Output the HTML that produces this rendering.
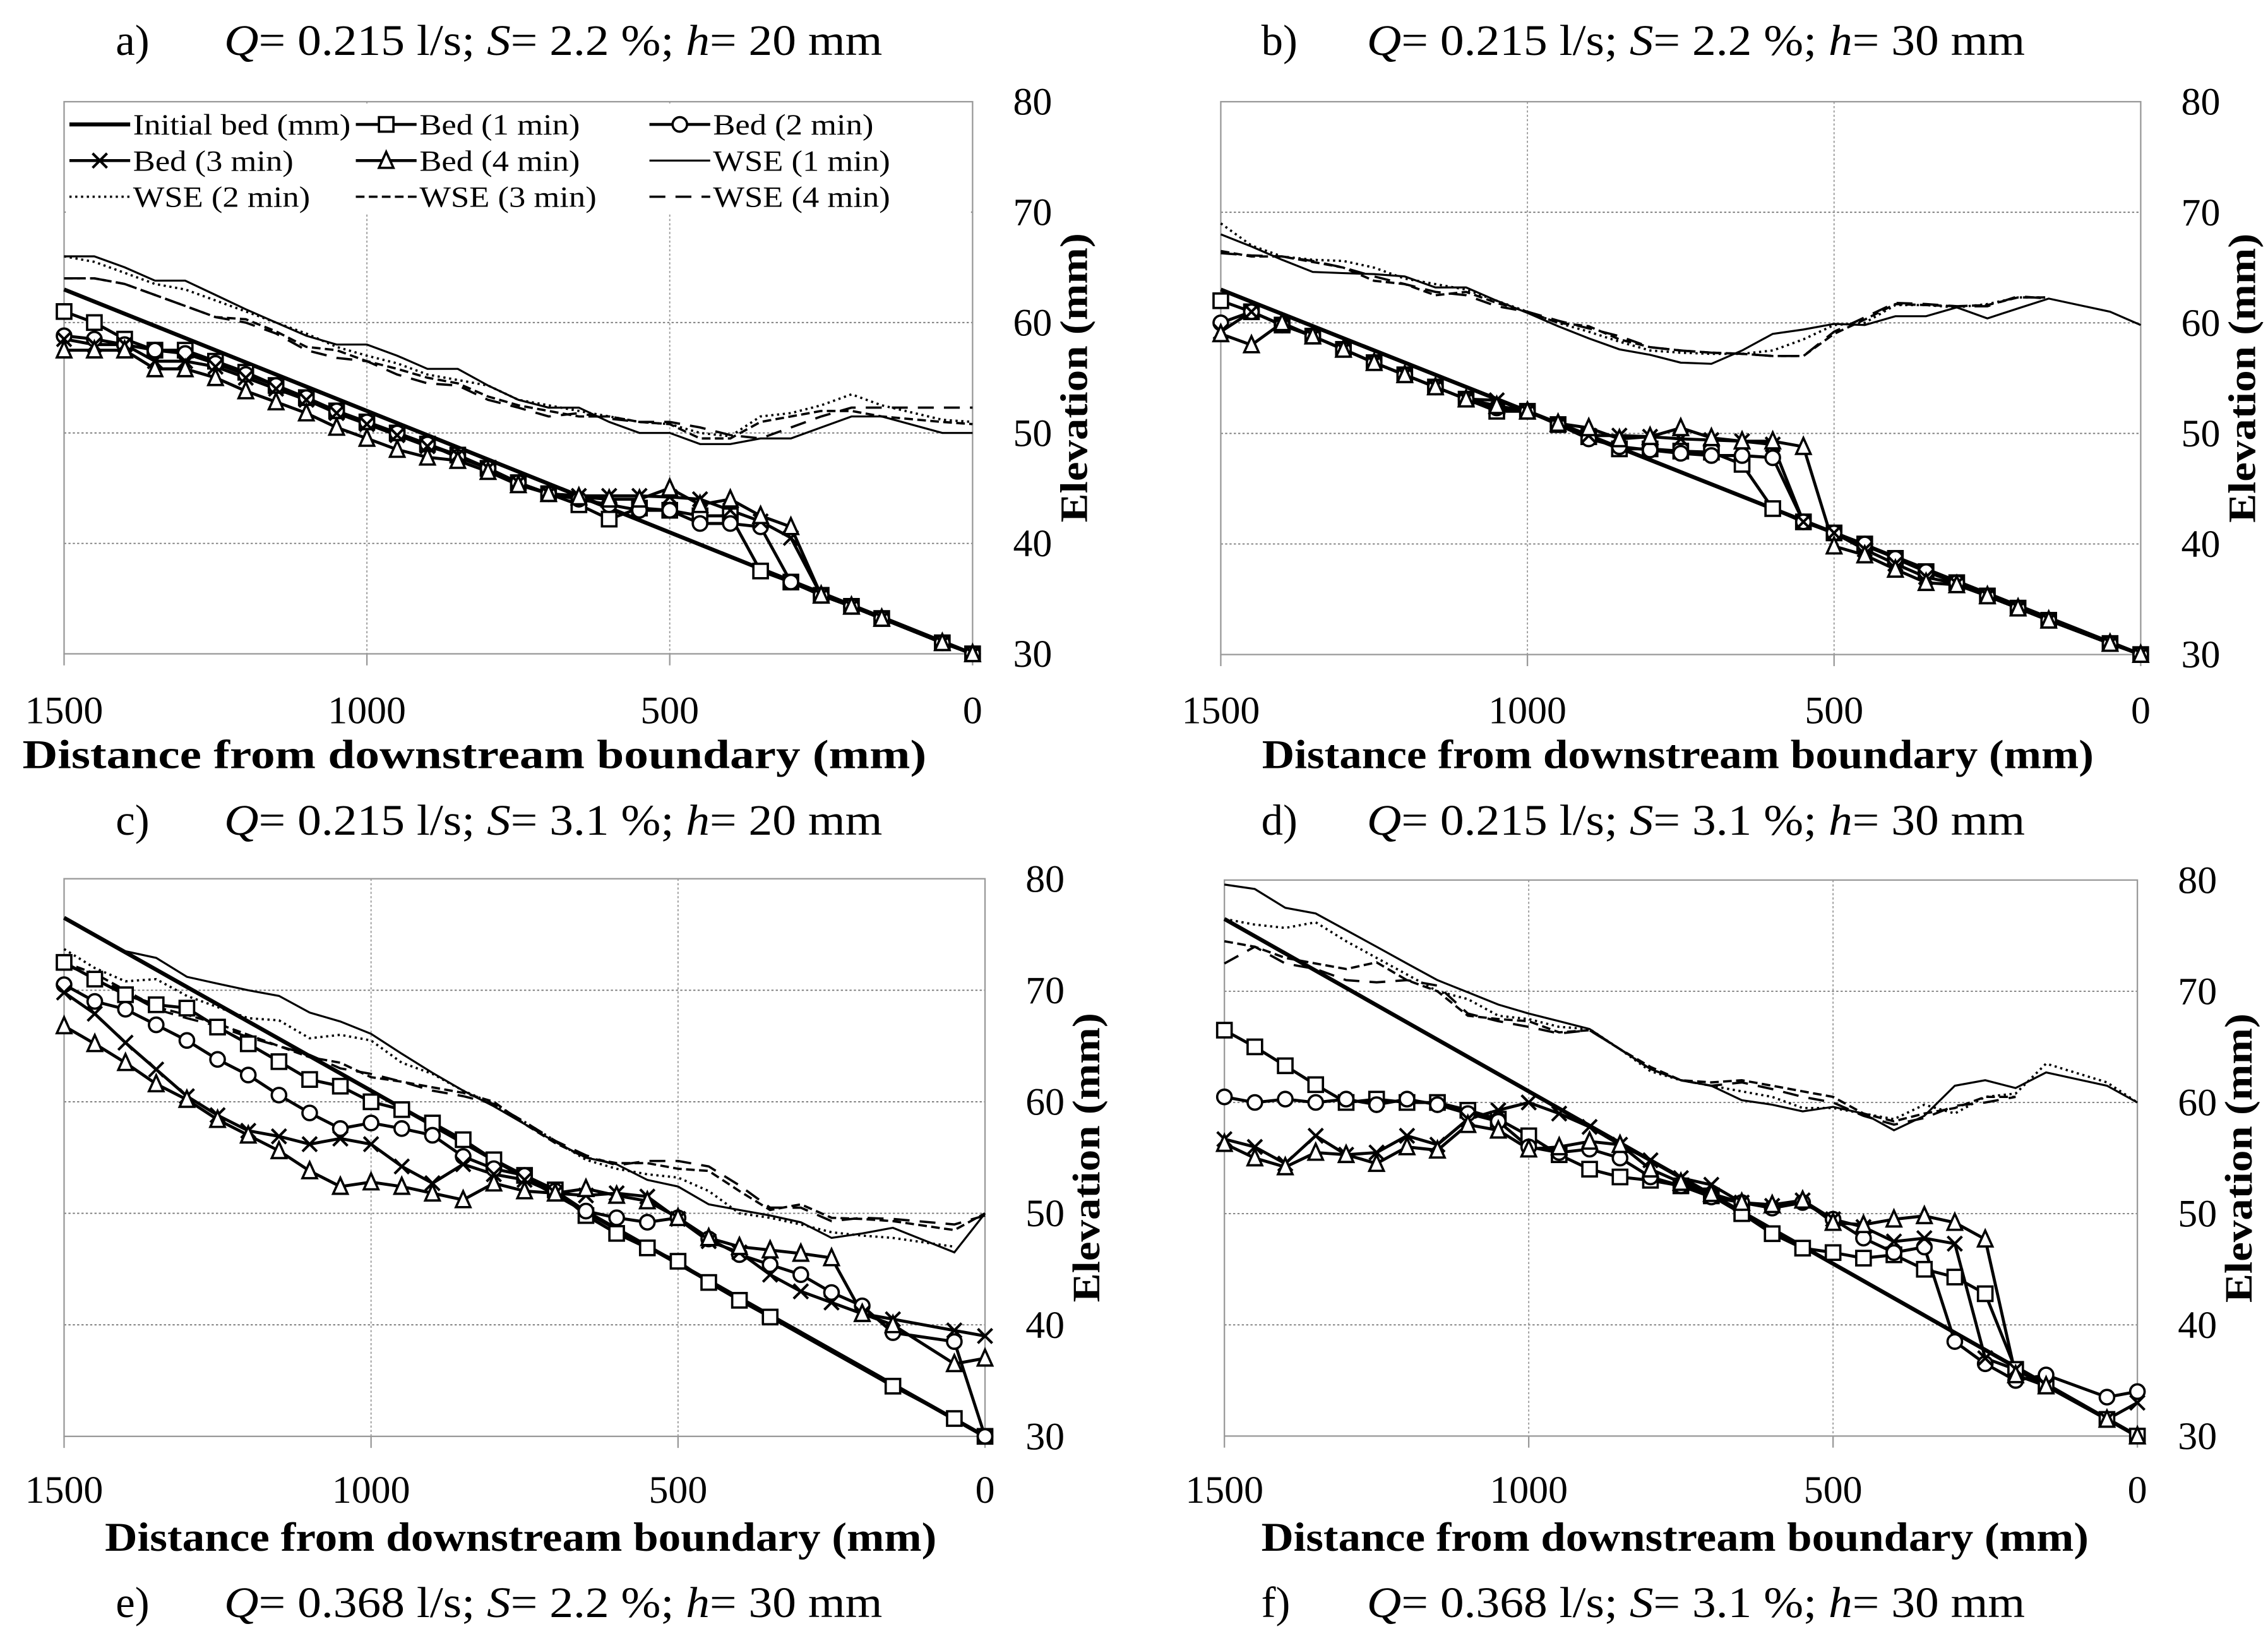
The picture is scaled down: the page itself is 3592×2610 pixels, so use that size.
<!DOCTYPE html>
<html><head><meta charset="utf-8">
<style>
html,body{margin:0;padding:0;background:#fff;}
svg{display:block;}
text{font-family:"Liberation Serif",serif;fill:#000;}
</style></head>
<body>
<svg id="chart" width="3592" height="2610" viewBox="0 0 1568 1139.3" xmlns="http://www.w3.org/2000/svg">
<rect x="0" y="0" width="1568" height="1139.3" fill="#fff"/>
<g id="layer"></g>
<g font-family="Liberation Serif, serif" font-size="30" fill="#000">
<text x="80" y="38">a)</text>
<text x="155" y="38" textLength="455" lengthAdjust="spacingAndGlyphs"><tspan font-style="italic">Q</tspan>= 0.215 l/s; <tspan font-style="italic">S</tspan>= 2.2 %; <tspan font-style="italic">h</tspan>= 20 mm</text>
<text x="872" y="38">b)</text>
<text x="945" y="38" textLength="455" lengthAdjust="spacingAndGlyphs"><tspan font-style="italic">Q</tspan>= 0.215 l/s; <tspan font-style="italic">S</tspan>= 2.2 %; <tspan font-style="italic">h</tspan>= 30 mm</text>
<text x="80" y="577">c)</text>
<text x="155" y="577" textLength="455" lengthAdjust="spacingAndGlyphs"><tspan font-style="italic">Q</tspan>= 0.215 l/s; <tspan font-style="italic">S</tspan>= 3.1 %; <tspan font-style="italic">h</tspan>= 20 mm</text>
<text x="872" y="577">d)</text>
<text x="945" y="577" textLength="455" lengthAdjust="spacingAndGlyphs"><tspan font-style="italic">Q</tspan>= 0.215 l/s; <tspan font-style="italic">S</tspan>= 3.1 %; <tspan font-style="italic">h</tspan>= 30 mm</text>
<text x="80" y="1118">e)</text>
<text x="155" y="1118" textLength="455" lengthAdjust="spacingAndGlyphs"><tspan font-style="italic">Q</tspan>= 0.368 l/s; <tspan font-style="italic">S</tspan>= 2.2 %; <tspan font-style="italic">h</tspan>= 30 mm</text>
<text x="872" y="1118">f)</text>
<text x="945" y="1118" textLength="455" lengthAdjust="spacingAndGlyphs"><tspan font-style="italic">Q</tspan>= 0.368 l/s; <tspan font-style="italic">S</tspan>= 3.1 %; <tspan font-style="italic">h</tspan>= 30 mm</text>
</g>
</svg>
<script>
const dist = [1500,1450,1400,1350,1300,1250,1200,1150,1100,1050,1000,950,900,850,800,750,700,650,600,550,500,450,400,350,300,250,200,150,50,0];
const xTicks = [1500,1000,500,0];
const yTicks = [30,40,50,60,70,80];

const aInitX = [1500,0];
const aInitY = [63,30];
const aBed1 = [61,60,58.5,57.5,57.5,56.5,55.5,54.3,53.2,52,51,50,49,48,46.8,45.5,44.5,43.5,42.2,43.2,43,42.5,42.5,37.5,36.5,35.3,34.3,33.2,31,30];
const aBed2 = [58.8,58.5,58,57.5,57.2,56.3,55.3,54.3,53.2,52,51,50,49,47.8,46.8,45.5,44.5,44,43.5,43,43,41.8,41.8,41.5,36.5,35.3,34.3,33.2,31,30];
const aBed3 = [58.5,58,58,56.5,56.5,56,55,54,53,51.8,50.8,49.8,48.8,48,46.8,45.5,44.5,44.3,44.3,44.3,44.2,44,43,42,40.5,35.3,34.3,33.2,31,30];
const aBed4 = [57.5,57.5,57.5,55.8,55.8,55,53.8,52.8,51.8,50.5,49.5,48.5,47.8,47.5,46.5,45.3,44.5,44.2,44,44,45,43.5,44,42.5,41.5,35.3,34.3,33.2,31,30];
const aWse1 = [66,66,65,63.8,63.8,62.5,61.2,60,58.8,58,58,57,55.8,55.8,54.3,53,52.3,52.3,51,50,50,49,49,49.5,49.5,50.5,51.5,51.5,50,50];
const aWse2 = [66,65.5,64.5,63.5,63,62,61,60,59,57.8,57,56.3,55.3,54.8,54.3,53,52.5,52,51.5,51,50.8,50,49.7,51.5,51.8,52.5,53.5,52.5,51.2,51];
const aWse3 = [64,64,63.5,62.5,61.5,60.5,60.3,59.2,57.8,57.5,56.5,55.8,55,54.5,53.3,52.5,52,51.5,51.5,51,50.8,49.5,49.5,51,51.5,52,52,51.5,51,50.8];
const aWse4 = [64,64,63.5,62.5,61.5,60.5,60,59,57.5,56.8,56.5,55.3,54.5,54.3,53,52.3,51.5,51.8,51.3,51,51,50.5,49.8,49.5,50.5,51.5,52.3,52.3,52.3,52.3];

const bInitX = [1500,0];
const bInitY = [63,30];
const bBed1 = [62,61,59.8,58.8,57.6,56.4,55.3,54.2,53.1,52,52,50.8,49.7,48.6,48.6,48.4,48.3,47.2,43.2,42,41,40,38.7,37.5,36.5,35.3,34.2,33.1,31,30];
const bBed2 = [60,61,59.8,58.8,57.6,56.4,55.3,54.2,53.1,52.3,52,50.8,49.5,48.8,48.5,48.2,48,48,47.8,42,41,40,38.7,37.5,36.5,35.3,34.2,33.1,31,30];
const bBed3 = [59.2,61,59.8,58.8,57.6,56.4,55.3,54.2,53.1,53,52,50.8,49.8,49.8,49.7,49.5,49.4,49.3,49,42,41,39.5,38.2,37,36.4,35.3,34.2,33.1,31,30];
const bBed4 = [59,58,60,58.8,57.6,56.4,55.3,54.2,53.1,52.5,52,50.9,50.5,49.5,49.7,50.5,49.6,49.3,49.3,48.8,39.8,39,37.7,36.5,36.3,35.3,34.2,33.1,31,30];
const bWse1 = [68,66.9,65.7,64.6,64.5,64.4,64.2,63.2,63.2,62,60.9,59.7,58.6,57.6,57.1,56.4,56.3,57.5,59,59.4,59.9,59.8,60.6,60.6,61.4,60.4,61.3,62.2,61,59.8];
const bWse2 = [69,67,66,65.7,65.6,65,64,63.5,63,62,61,60,59.2,58.3,57.5,57.3,57.2,57.2,57.5,58.5,59.8,60,61.6,61.6,61.4,61.7,62.3,62.3,null,null];
const bWse3 = [66.5,66,66,65.5,65,63.8,63.5,62.5,62.8,61.8,61,60,59.7,58.5,57.8,57.5,57.3,57.2,57,57,59,60.3,61.7,61.6,61.5,61.6,62.3,62.3,null,null];
const bWse4 = [66.3,66.1,66,65.6,65,64.2,63.5,62.8,62.5,61.5,61,60.2,59.5,58.8,57.8,57.5,57.3,57.2,57,57,59.2,60.5,61.8,61.7,61.5,61.5,62.4,62.2,null,null];

const cInitX = [1500,0];
const cInitY = [76.5,30];
const cBed1 = [72.5,71,69.6,68.7,68.4,66.7,65.2,63.6,62,61.4,60,59.3,58.1,56.6,54.8,53.4,52.1,49.8,48.2,46.9,45.7,43.8,42.2,40.7,null,null,null,34.5,31.6,30];
const cBed2 = [70.5,69,68.3,66.9,65.5,63.8,62.4,60.6,59,57.6,58.1,57.6,57,55.1,54,53.4,52,50.2,49.6,49.2,49.6,47.7,46.3,45.4,44.5,42.9,41.7,39.3,38.5,30];
const cBed3 = [69.8,67.9,65.3,62.9,60.5,58.8,57.4,56.9,56.2,56.7,56.2,54.2,52.7,54.4,53.5,53,51.8,51.6,51.8,51.5,49.5,47.5,46.5,44.5,43,42,41,40.5,39.5,39];
const cBed4 = [66.8,65.2,63.5,61.6,60.2,58.4,57,55.6,53.8,52.4,52.8,52.4,51.8,51.2,52.7,52,51.8,52.2,51.6,51.1,49.6,47.8,47,46.7,46.4,46,41,40,36.5,37];
const cWse1 = [76.5,75,73.5,72.9,71.2,70.6,70,69.5,68,67.2,66.1,64.3,62.6,61,59.6,58,56.4,55,54.4,53,52.4,50.8,50.3,49.8,49.2,47.8,48.2,48.7,46.5,50];
const cWse2 = [73.7,72,70.8,71,69.5,68.5,67.5,67.3,65.7,66,65.5,63.5,62.5,61,59.8,58.2,56.5,54.8,54,53.5,53.2,52,50,49.6,49,48.3,48,47.8,47,null];
const cWse3 = [72.5,71.5,70,68.5,67.8,67,66,65,64,63.5,62.2,61.8,61.3,60.8,60,58,56.3,55,54.5,54.5,54,53.8,52,50.3,50.8,49.6,49.5,49.3,48.5,50];
const cWse4 = [72.3,71.2,69.8,68.3,67.5,66.8,65.8,65,64.2,63,62.5,61.8,61,60.5,59.8,58.2,56.5,55.2,54.3,54.7,54.7,54.2,52.5,50.5,50.5,49.3,49.6,49.5,49,49.8];

const dInitX = [1500,0];
const dInitY = [76.5,30];
const dBed1 = [66.5,65,63.3,61.6,60,60.3,60,60,59.3,58.5,57,55.3,54,53.3,53,52.5,51.6,50,48.2,46.9,46.5,46,46.3,45,44.3,42.8,36,34.5,31.5,30];
const dBed2 = [60.5,60,60.3,60,60.3,59.8,60.3,59.8,59,58.3,56,55.5,55.8,55,53.3,52.5,51.5,51,50.5,51,49.5,47.8,46.5,47,38.5,36.5,35,35.5,33.5,34];
const dBed3 = [56.7,56,54.5,57,55.3,55.5,57,56.2,58.5,59.3,60,59,57.8,56.2,54.8,53.2,52.6,51,50.7,51.2,49.5,48.8,47.5,47.8,47.3,37,36,34.5,31.5,33];
const dBed4 = [56.3,55,54.2,55.5,55.3,54.5,56,55.7,58,57.5,55.8,56,56.5,56.2,54,52.8,51.8,51,50.8,51.2,49.2,49,49.5,49.8,49.2,47.7,35.5,34.5,31.5,30];
const dWse1 = [79.6,79.2,77.5,77,75.5,74,72.5,71,69.9,68.8,68,67.3,66.6,64.8,63,62,61.5,60.2,59.8,59.2,59.6,59,57.5,58.8,61.5,62,61.3,62.7,61.5,60];
const dWse2 = [76.5,76,75.7,76.2,74.5,73,71.5,70,69.3,67.8,67.5,66.8,66.6,64.8,62.8,62,61.5,61,60.5,59.5,59.5,59,58.5,59.8,59,60.5,60.8,63.5,61.8,60];
const dWse3 = [74.5,74,73,72.5,72,72.6,71,70,67.8,67.5,67.3,66.3,66.5,64.8,63.2,62,61.8,62,61.5,61,60.5,59,58.3,59,59.5,60.5,60.5,null,null,null];
const dWse4 = [72.5,74,72.5,72,71,70.8,71,70.5,68,67.3,66.8,66.2,66.5,64.8,63,62,61.5,61.8,61.2,60.5,60,58.8,58,58.6,59.7,60,60.5,null,null,null];

const NS = 'http://www.w3.org/2000/svg';
const layer = document.getElementById('layer');
function mk(tag, attrs, parent){
  const e = document.createElementNS(NS, tag);
  for (const k in attrs) e.setAttribute(k, attrs[k]);
  (parent||layer).appendChild(e);
  return e;
}

const panels = [
  {id:'a', L:44.3, R:672.4, T:70.3, B:452, init:[aInitX,aInitY], bed:[aBed1,aBed2,aBed3,aBed4], wse:[aWse1,aWse2,aWse3,aWse4], tickY:500, titleY:531, titleX:328, titleLen:625},
  {id:'b', L:844, R:1480, T:70.3, B:452.5, init:[bInitX,bInitY], bed:[bBed1,bBed2,bBed3,bBed4], wse:[bWse1,bWse2,bWse3,bWse4], tickY:500, titleY:531, titleX:1160, titleLen:575},
  {id:'c', L:44.3, R:681, T:607.5, B:993, init:[cInitX,cInitY], bed:[cBed1,cBed2,cBed3,cBed4], wse:[cWse1,cWse2,cWse3,cWse4], tickY:1039, titleY:1072, titleX:360, titleLen:575},
  {id:'d', L:846.5, R:1477.7, T:608.4, B:992.8, init:[dInitX,dInitY], bed:[dBed1,dBed2,dBed3,dBed4], wse:[dWse1,dWse2,dWse3,dWse4], tickY:1039, titleY:1072, titleX:1158, titleLen:572}
];
const wseDash = ['none','1.5,2.5','6,3','11,7'];
const wseW = [1.4,1.6,1.6,1.6];
const markerKinds = ['square','circle','cross','triangle'];

function drawMarker(g, kind, x, y){
  const s = 5;
  let m;
  if (kind==='square') m = mk('rect',{x:x-s,y:y-s,width:2*s,height:2*s,fill:'#fff',stroke:'#000','stroke-width':1.6},g);
  else if (kind==='circle') m = mk('circle',{cx:x,cy:y,r:s,fill:'#fff',stroke:'#000','stroke-width':1.6},g);
  else if (kind==='triangle') m = mk('polygon',{points:`${x},${y-s-1} ${x-s},${y+s} ${x+s},${y+s}`,fill:'#fff',stroke:'#000','stroke-width':1.6},g);
  else m = mk('path',{d:`M${x-s},${y-s}L${x+s},${y+s}M${x-s},${y+s}L${x+s},${y-s}`,stroke:'#000','stroke-width':1.8,fill:'none'},g);
  
  
}

panels.forEach(p => {
  const xs = d => p.L + (1500-d)/1500*(p.R-p.L);
  const ys = v => p.B - (v-30)/50*(p.B-p.T);
  const g = mk('g',{});
  
  
  yTicks.forEach(t => {
    if (t===30||t===80) return;
    const l = mk('line',{x1:p.L,x2:p.R,y1:ys(t),y2:ys(t),stroke:'#777','stroke-width':0.8,'stroke-dasharray':'1.5,1.5'},g);
    
    
  });
  xTicks.forEach(t => {
    if (t===1500||t===0) return;
    const l = mk('line',{x1:xs(t),x2:xs(t),y1:p.T,y2:p.B,stroke:'#999','stroke-width':0.8,'stroke-dasharray':'1.5,1.5'},g);
    
    
  });
  const fr = mk('rect',{x:p.L,y:p.T,width:p.R-p.L,height:p.B-p.T,fill:'none',stroke:'#999','stroke-width':1},g);
  
  
  xTicks.forEach(t => {
    const tk = mk('line',{x1:xs(t),x2:xs(t),y1:p.B,y2:p.B+8,stroke:'#999','stroke-width':1},g);
    
    
    const tx = mk('text',{x:xs(t),y:p.tickY,'font-size':27,'text-anchor':'middle'},g);
    tx.textContent = t;
    
    
  });
  yTicks.forEach(t => {
    const tx = mk('text',{x:p.R+28,y:ys(t)+9,'font-size':27},g);
    tx.textContent = t;
    
    
  });
  const yt = mk('text',{x:0,y:0,'font-size':27,'font-weight':'bold','text-anchor':'middle',textLength:200,lengthAdjust:'spacingAndGlyphs',transform:`translate(${p.R+79},${(p.T+p.B)/2}) rotate(-90)`},g);
  yt.textContent = 'Elevation (mm)';
  
  
  const xt = mk('text',{x:p.titleX,y:p.titleY,'font-size':28,'font-weight':'bold','text-anchor':'middle',textLength:p.titleLen,lengthAdjust:'spacingAndGlyphs'},g);
  xt.textContent = 'Distance from downstream boundary (mm)';
  
  

  const pts = arr => dist.map((d,i)=>arr[i]==null?null:[xs(d),ys(arr[i])]).filter(v=>v);
  const toPath = P => P.map((q,i)=>(i?'L':'M')+q[0].toFixed(1)+','+q[1].toFixed(1)).join('');
  p.wse.forEach((arr,k) => {
    const l = mk('path',{d:toPath(pts(arr)),fill:'none',stroke:'#000','stroke-width':wseW[k],'stroke-dasharray':wseDash[k]},g);
    
    
  });
  const ip = p.init[0].map((d,i)=>[xs(d),ys(p.init[1][i])]);
  const il = mk('path',{d:toPath(ip),fill:'none',stroke:'#000','stroke-width':2.8},g);
  
  
  p.bed.forEach((arr,k) => {
    const l = mk('path',{d:toPath(pts(arr)),fill:'none',stroke:'#000','stroke-width':2.1,'stroke-linejoin':'round'},g);
    
    
  });
  p.bed.forEach((arr,k) => {
    const mg = mk('g',{},g);
    
    
    pts(arr).forEach(q => drawMarker(mg, markerKinds[k], q[0], q[1]));
  });
});

(function(){
  const lg = mk('g',{});
  
  
  const bg = mk('rect',{x:45.5,y:71.5,width:625,height:76,fill:'#fff'},lg);
  
  
  const items = [
    ['Initial bed (mm)','init',0],['Bed (1 min)','bed',0],['Bed (2 min)','bed',1],
    ['Bed (3 min)','bed',2],['Bed (4 min)','bed',3],['WSE (1 min)','wse',0],
    ['WSE (2 min)','wse',1],['WSE (3 min)','wse',2],['WSE (4 min)','wse',3]
  ];
  const cols = [48,246,449];
  items.forEach((it,i) => {
    const cx = cols[i%3], cy = 86 + Math.floor(i/3)*25;
    const eg = mk('g',{},lg);
    
    
    let attrs = {x1:cx,x2:cx+42,y1:cy,y2:cy,stroke:'#000'};
    if (it[1]==='init') attrs['stroke-width']=2.8;
    else if (it[1]==='bed') attrs['stroke-width']=2;
    else { attrs['stroke-width']=wseW[it[2]]; attrs['stroke-dasharray']=wseDash[it[2]]; }
    const l = mk('line',attrs,eg);
    
    
    if (it[1]==='bed') drawMarker(eg, markerKinds[it[2]], cx+21, cy);
    const t = mk('text',{x:cx+44,y:cy+7,'font-size':20.5},eg);
    t.textContent = it[0];
    
    
    const w = t.getComputedTextLength();
    t.setAttribute('textLength', (w*1.12).toFixed(1));
    t.setAttribute('lengthAdjust', 'spacingAndGlyphs');
  });
})();
</script>
</body></html>
